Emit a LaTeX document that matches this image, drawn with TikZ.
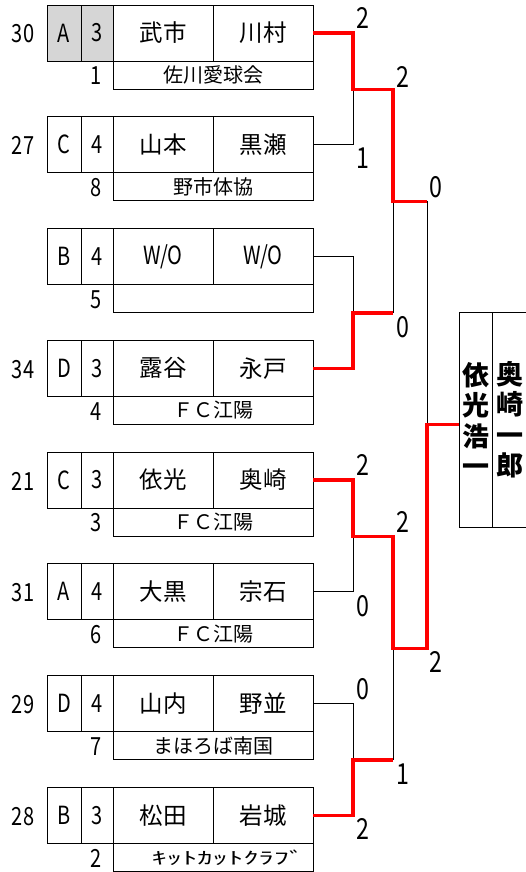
\documentclass[tikz,border=0pt]{standalone}
\usepackage{fontspec}
\usepackage{graphicx}
\newfontfamily\jp{Noto Sans CJK JP}
\usetikzlibrary{calc}
\newcommand\nr[1]{\scalebox{0.8}[1]{#1}}
\newcommand\tblock[9]{%
  \node[cell, lfill, minimum width=34pt, lat] (L#1) at (47,{#2}) {\nr{#4}};
  \node[cell, lfill, minimum width=32pt, lat] (N#1) at (81,{#2}) {\nr{#5}};
  \node[cell, minimum width=100pt, nm] (A#1) at (113,{#2}) {#6};
  \node[cell, minimum width=100pt, nm] (B#1) at (213,{#2}) {#7};
  \node[sub] (C#1) at (113,{#2+56}) {#9};
  \node[lat, inner sep=0pt] (R#1) at (96,{#2+71}) {\nr{#8}};
  \node[lat, inner sep=0pt] (S#1) at (23,{#2+29}) {\nr{#3}};
}
\begin{document}
\begin{tikzpicture}[x=1pt,y=-1pt,
  cell/.style={draw, line width=0.8pt, inner sep=0pt, outer sep=0pt, anchor=north west, minimum height=56pt},
  lfill/.style={},
  sub/.style={draw, line width=0.8pt, inner sep=0pt, outer sep=0pt, anchor=north west, minimum height=28pt, minimum width=200pt, font=\jp\fontsize{20}{20}\selectfont},
  lat/.style={font=\jp\fontsize{25}{25}\selectfont},
  nm/.style={font=\jp\fontsize{23.5}{23.5}\selectfont},
  score/.style={font=\jp\fontsize{29}{29}\selectfont, inner sep=0pt},
  fin/.style={draw, line width=0.8pt, inner sep=0pt, outer sep=0pt, anchor=north west, minimum height=215pt, align=center, font=\jp\bfseries\fontsize{27}{30.5}\selectfont},
  win/.style={draw=red, line width=3.2pt},
  lose/.style={draw=black, line width=0.8pt},
]
\useasboundingbox (0,0) rectangle (525,872);

\begin{scope}[lfill/.style={fill=black!16}]
\tblock{1}{5}{30}{A}{3}{武市}{川村}{1}{佐川愛球会}
\end{scope}
\tblock{2}{116.75}{27}{C}{4}{山本}{黒瀬}{8}{野市体協}
\tblock{3}{228.5}{}{B}{4}{\fontsize{25}{25}\selectfont\nr{W/O}}{\fontsize{25}{25}\selectfont\nr{W/O}}{5}{}
\tblock{4}{340.25}{34}{D}{3}{露谷}{永戸}{4}{ＦＣ江陽}
\tblock{5}{452}{21}{C}{3}{依光}{奥崎}{3}{ＦＣ江陽}
\tblock{6}{563.75}{31}{A}{4}{大黒}{宗石}{6}{ＦＣ江陽}
\tblock{7}{675.5}{29}{D}{4}{山内}{野並}{7}{まほろば南国}
\tblock{8}{787.25}{28}{B}{3}{松田}{岩城}{2}{\hspace*{30pt}\scalebox{1.8}[1]{\fontsize{17}{17}\selectfont ｷｯﾄｶｯﾄｸﾗﾌﾞ}}

\node[fin, minimum width=33.5pt] (finL) at (459,312) {依\\光\\浩\\一};
\node[fin, minimum width=35pt] (finR) at (492.5,312) {奥\\崎\\一\\郎};

\coordinate (m1) at (353,89.4);
\coordinate (m2) at (353,312.9);
\coordinate (m3) at (353,536.4);
\coordinate (m4) at (353,759.9);
\coordinate (q1) at (393,201.1);
\coordinate (q2) at (393,648.1);
\coordinate (fu) at (427,201.1);
\coordinate (f) at (427,424.6);

% upper half
\draw[lose] (B2.east) -| (m1);
\draw[lose] (B3.east) -| (m2);
\draw[lose] (m2 -| q1) -- (q1);
\draw[lose] (fu) -- (f);
\draw[win] (B1.east) -| (m1) -| (q1) -- (fu);
\draw[win] (B4.east) -| (m2) -- (m2 -| q1);
% lower half
\draw[lose] (B6.east) -| (m3);
\draw[lose] (B7.east) -| (m4);
\draw[lose] (m4 -| q2) -- (q2);
\draw[win] (B8.east) -| (m4) -- (m4 -| q2);
\draw[win] (B5.east) -| (m3) -| (q2) -| (f) -- (finL.west |- f);

% scores
\node[score] (s1) at (363,18) {\nr{2}};
\node[score] (s2) at (363,158) {\nr{1}};
\node[score] (s3) at (403,77) {\nr{2}};
\node[score] (s4) at (403,327) {\nr{0}};
\node[score] (s5) at (436,187) {\nr{0}};
\node[score] (s6) at (363,465) {\nr{2}};
\node[score] (s7) at (363,606) {\nr{0}};
\node[score] (s8) at (403,522) {\nr{2}};
\node[score] (s9) at (403,774) {\nr{1}};
\node[score] (s10) at (436,662) {\nr{2}};
\node[score] (s11) at (363,689) {\nr{0}};
\node[score] (s12) at (363,829) {\nr{2}};
\end{tikzpicture}
\end{document}
